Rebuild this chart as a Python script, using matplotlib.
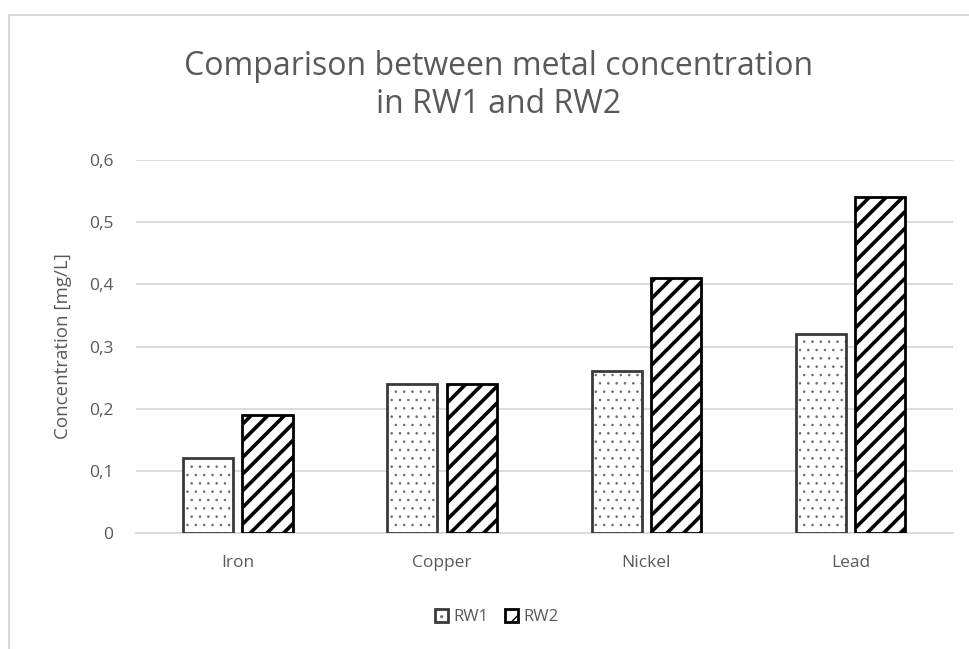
import matplotlib.pyplot as plt
from matplotlib.lines import Line2D
import numpy as np

plt.rcParams['font.family'] = ['Open Sans', 'DejaVu Sans']

metals = ['Iron', 'Copper', 'Nickel', 'Lead']
rw1 = [0.12, 0.24, 0.26, 0.32]
rw2 = [0.19, 0.24, 0.41, 0.54]
yticks = [0, 0.1, 0.2, 0.3, 0.4, 0.5, 0.6]

grey = '#595959'
light = '#d9d9d9'

fig = plt.figure(figsize=(9.7, 6.49), dpi=100)
ax = fig.add_axes([0.140, 0.1787, 0.842, 0.5748])

# chart area frame (only top and left edges show)
fig.add_artist(Line2D([0.0093, 1.0], [0.977, 0.977], color=light, lw=1.5))
fig.add_artist(Line2D([0.0093, 0.0093], [0.0, 0.977], color=light, lw=1.5))

x = np.arange(len(metals))
w = 0.245
gap = 0.045
x1 = x - w / 2 - gap / 2
x2 = x + w / 2 + gap / 2

# dotted fill for RW1, drawn separately so the dots stay small and grey
with plt.rc_context({'hatch.linewidth': 0.6}):
    h1 = ax.bar(x1, rw1, w, color='white', edgecolor='#6a6a6a', hatch='..',
                linewidth=0, zorder=3)
b1 = ax.bar(x1, rw1, w, fill=False, edgecolor='#3a3a3a', linewidth=2,
            zorder=4)
with plt.rc_context({'hatch.linewidth': 2.6}):
    b2 = ax.bar(x2, rw2, w, color='white', edgecolor='black', hatch='//',
                linewidth=2, zorder=3)

ax.set_xlim(-0.5, len(metals) - 0.5)
ax.set_ylim(0, 0.6)
ax.set_yticks(yticks)
ax.set_yticklabels(['0' if t == 0 else f'{t:.1f}'.replace('.', ',') for t in yticks])
ax.set_xticks(x)
ax.set_xticklabels(metals)
ax.tick_params(length=0, colors=grey, labelsize=12.5)
ax.tick_params(axis='x', pad=16)
ax.tick_params(axis='y', pad=16)
ax.grid(axis='y', color=light, lw=1.3, zorder=0)
for s in ['top', 'right', 'left']:
    ax.spines[s].set_visible(False)
ax.spines['bottom'].set_color(light)
ax.spines['bottom'].set_linewidth(1.3)

ax.set_ylabel('Concentration [mg/L]', color=grey, fontsize=13.5, labelpad=12)
fig.text(0.514, 0.868, 'Comparison between metal concentration\nin RW1 and RW2',
         ha='center', va='center', color=grey, fontsize=23, linespacing=1.18)

fig.legend(handles=[(h1, b1), b2], labels=['RW1', 'RW2'], loc='center',
           bbox_to_anchor=(0.512, 0.049), ncol=2, frameon=False, fontsize=12,
           labelcolor=grey, handlelength=0.8, handleheight=0.8,
           handletextpad=0.3, columnspacing=1.0)

fig.savefig('out.png', dpi=100)
